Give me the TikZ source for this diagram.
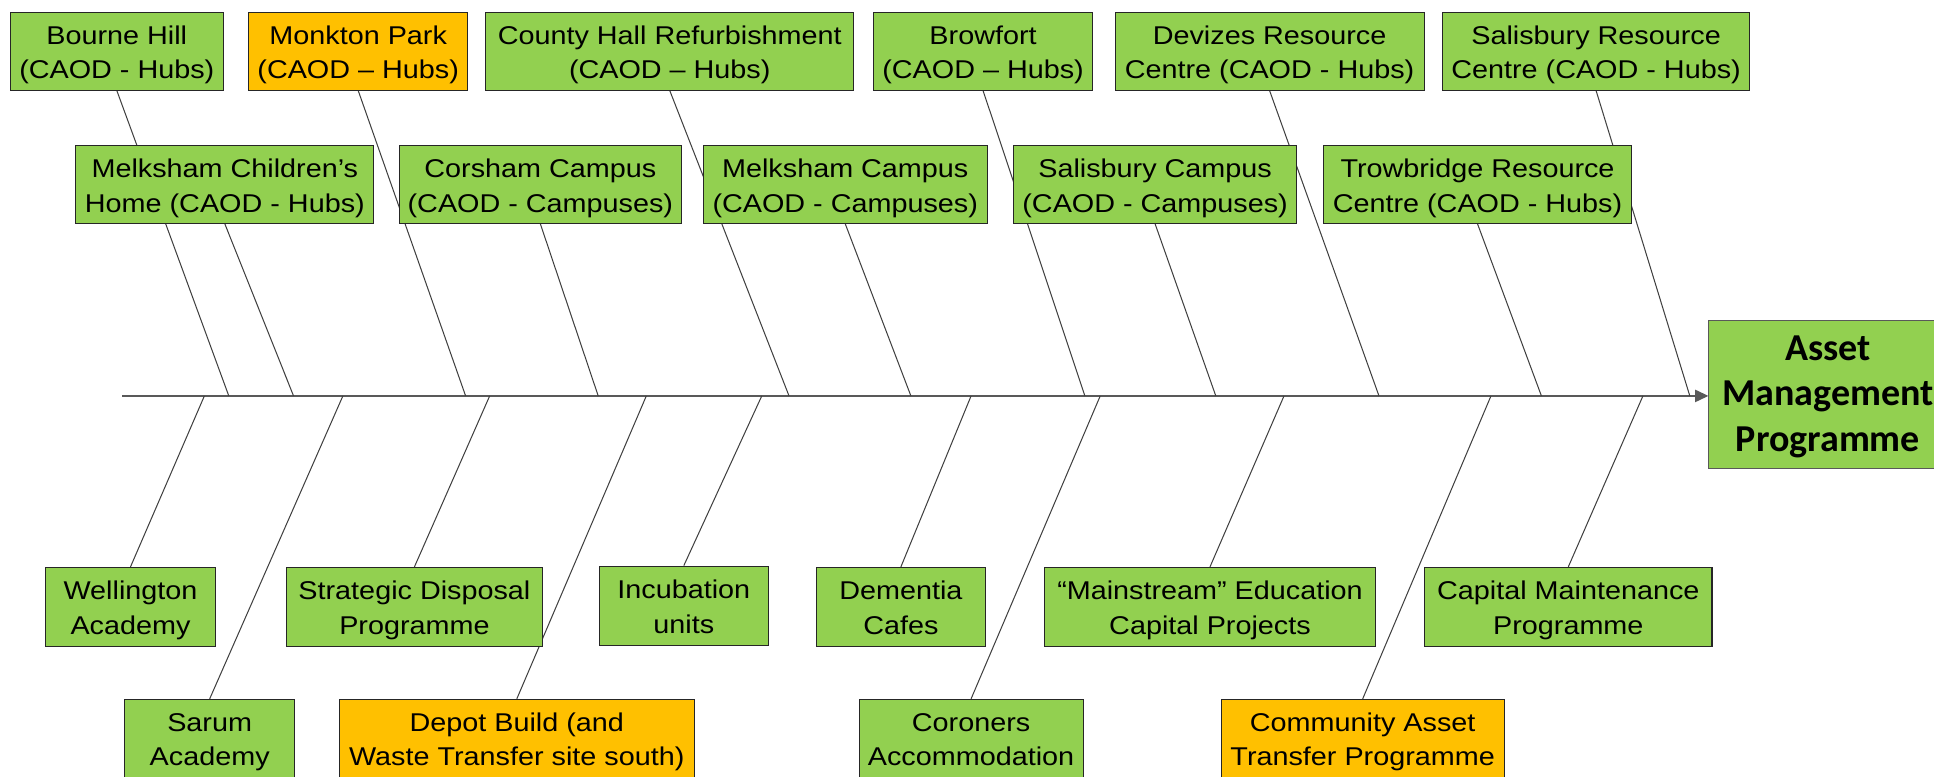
\documentclass[tikz,border=0pt]{standalone}
\usepackage{fontspec}
\setmainfont{Liberation Sans}[FakeStretch=1.12]
\newfontfamily\assetfont{Carlito}
\usetikzlibrary{arrows.meta,backgrounds}

\definecolor{boxgreen}{HTML}{92D050}
\definecolor{boxorange}{HTML}{FFC000}
\definecolor{bonegray}{HTML}{404040}
\definecolor{spinegray}{HTML}{595959}

\tikzset{
  box/.style={draw=black!85, line width=0.5pt, fill=boxgreen, align=center,
    inner sep=1pt, minimum height=37.8pt, font=\fontsize{12.5}{16.8}\selectfont,
    text height=26.8pt, text depth=0pt},
  hotbox/.style={box, fill=boxorange},
  bone/.style={draw=bonegray, line width=0.5pt},
}

\begin{document}
\begin{tikzpicture}[x=0.6pt, y=-0.6pt]
    \useasboundingbox (0,0) rectangle (1568,629.2);
    % top row
    \node[box, minimum width=103.6pt] (bourne) at (94.7,41.5) {Bourne Hill\\(CAOD - Hubs)};
    \node[hotbox, minimum width=106.4pt] (monkton) at (290.4,41.5) {Monkton Park\\(CAOD – Hubs)};
    \node[box, minimum width=178.8pt] (county) at (543,41.5) {County Hall Refurbishment\\(CAOD – Hubs)};
    \node[box, minimum width=106.8pt] (browfort) at (797,41.5) {Browfort\\(CAOD – Hubs)};
    \node[box, minimum width=150.3pt] (devizes) at (1029.3,41.5) {Devizes Resource\\Centre (CAOD - Hubs)};
    \node[box, minimum width=149.4pt] (salres) at (1294,41.5) {Salisbury Resource\\Centre (CAOD - Hubs)};
    % second row
    \node[box, minimum width=144.9pt] (melkch) at (182.3,149.6) {Melksham Children’s\\Home (CAOD - Hubs)};
    \node[box, minimum width=137.3pt] (corsham) at (438.1,149.6) {Corsham Campus\\(CAOD - Campuses)};
    \node[box, minimum width=138.4pt] (melkcamp) at (685.3,149.6) {Melksham Campus\\(CAOD - Campuses)};
    \node[box, minimum width=137.4pt] (salcamp) at (936.5,149.6) {Salisbury Campus\\(CAOD - Campuses)};
    \node[box, minimum width=149.9pt] (trow) at (1197.9,149.6) {Trowbridge Resource\\Centre (CAOD - Hubs)};
    % lower rows
    \node[box, minimum width=83.1pt, minimum height=38.4pt] (wellington) at (105.8,492) {Wellington\\Academy};
    \node[box, minimum width=124.8pt, minimum height=38.4pt] (strategic) at (336,492) {Strategic Disposal\\Programme};
    \node[box, minimum width=82.4pt, minimum height=38.4pt] (incubation) at (554.4,491) {Incubation\\units};
    \node[box, minimum width=82.3pt, minimum height=38.4pt] (dementia) at (730.4,492) {Dementia\\Cafes};
    \node[box, minimum width=160.8pt, minimum height=38.4pt] (mainstream) at (981,492) {“Mainstream” Education\\Capital Projects};
    \node[box, minimum width=139.8pt, minimum height=38.4pt] (capmaint) at (1271.5,492) {Capital Maintenance\\Programme};
    \node[box, minimum width=82.8pt] (sarum) at (170,598.5) {Sarum\\Academy};
    \node[hotbox, minimum width=172.8pt] (depot) at (419,598.5) {Depot Build (and\\Waste Transfer site south)};
    \node[box, minimum width=108.9pt] (coroners) at (787.3,598.5) {Coroners\\Accommodation};
    \node[hotbox, minimum width=137.8pt] (community) at (1104.8,598.5) {Community Asset\\Transfer Programme};
    % effect
    \node[box, draw=spinegray, minimum width=115.8pt, minimum height=71.7pt,
      font=\assetfont\bfseries\fontsize{18.5}{22.2}\selectfont,
      text height=55.5pt, text depth=0pt] (asset) at (1482,319.8)
      {Asset\\Management\\Programme};

    \begin{scope}[on background layer]
        \coordinate (tail) at (99,321);
        \draw[spinegray, line width=0.7pt, -{Triangle[length=6.5pt,width=6pt]}] (tail) -- (tail -| asset.west);
        \foreach \n/\x in {bourne/185.5, melkch/238, monkton/377.5, corsham/485,
            county/639.7, melkcamp/738.5, browfort/879.6, salcamp/985.7,
            devizes/1118, trow/1249.7, salres/1370} {
            \coordinate (s-\n) at (\x,321);
            \draw[bone] (\n.south) -- (s-\n);
        }
        \foreach \n/\x in {wellington/165.7, sarum/278, strategic/397, depot/524,
            incubation/617.6, dementia/787.3, coroners/892, mainstream/1041,
            community/1208.8, capmaint/1332} {
            \coordinate (s-\n) at (\x,321);
            \draw[bone] (s-\n) -- (\n.north);
        }
    \end{scope}
\end{tikzpicture}
\end{document}
